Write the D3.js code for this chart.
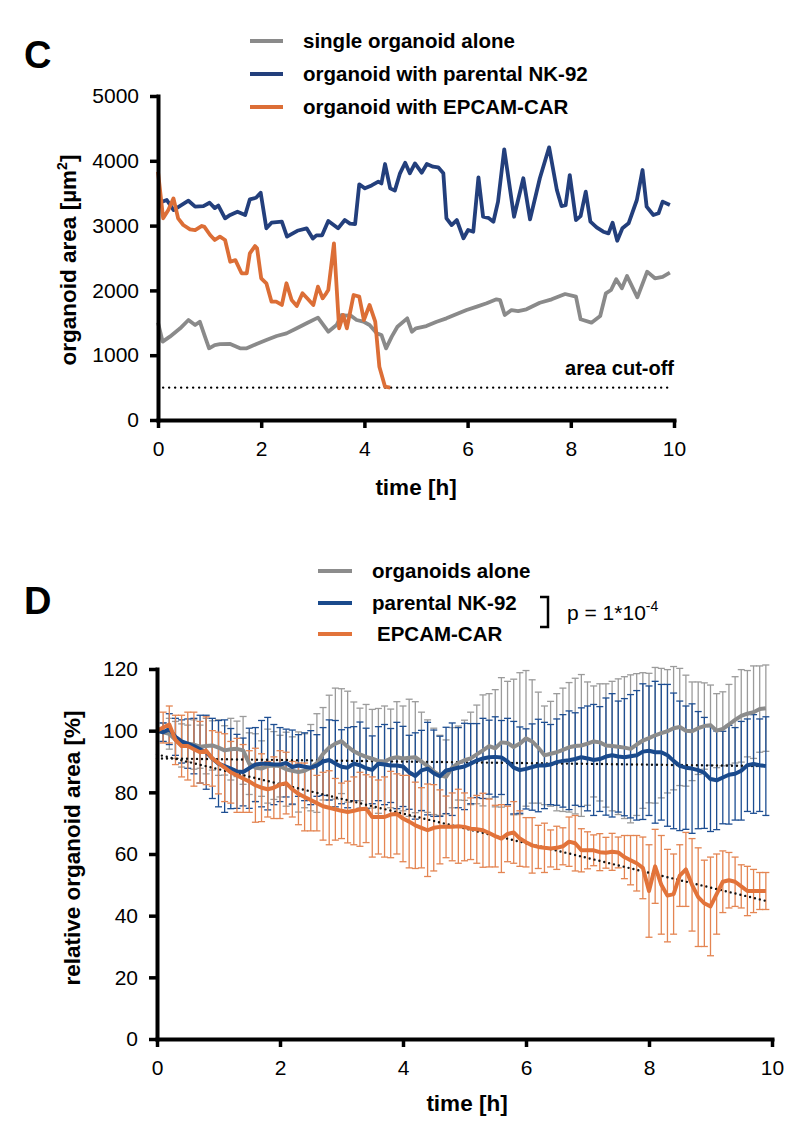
<!DOCTYPE html>
<html><head><meta charset="utf-8">
<script src="https://cdn.jsdelivr.net/npm/d3@7"></script>
<style>
body{margin:0;background:#fff}
svg text{font-family:"Liberation Sans",Arial,Helvetica,sans-serif;fill:#000}
</style></head>
<body><svg id="chart" width="786" height="1124"></svg>
<script>
// ---------- Panel C data ----------
const cTicksY = [0, 1000, 2000, 3000, 4000, 5000];
const cTicksX = [0, 2, 4, 6, 8, 10];
const cutoff = 500;
const cLegend = ["single organoid alone", "organoid with parental NK-92", "organoid with EPCAM-CAR"];

const tGray = [0,0.09,0.23,0.43,0.59,0.72,0.81,0.91,0.99,1.1,1.2,1.4,1.59,1.72,1.91,2.1,2.3,2.49,2.69,2.88,3.1,3.3,3.46,3.56,3.66,3.72,3.85,3.98,4.1,4.24,4.33,4.42,4.53,4.64,4.83,4.92,5.0,5.2,5.4,5.59,5.79,5.98,6.18,6.37,6.56,6.63,6.72,6.85,6.98,7.14,7.4,7.63,7.89,8.1,8.19,8.4,8.57,8.68,8.78,8.88,8.99,9.09,9.29,9.48,9.63,9.78,9.92];
const vGray = [1502,1209,1286,1415,1543,1466,1517,1286,1106,1157,1170,1173,1106,1106,1173,1235,1296,1337,1415,1492,1580,1363,1466,1620,1610,1620,1543,1517,1466,1337,1312,1106,1286,1440,1569,1363,1415,1450,1517,1569,1636,1697,1749,1801,1862,1850,1620,1697,1680,1708,1810,1862,1944,1903,1554,1502,1605,1955,2006,2171,2032,2222,1893,2289,2187,2210,2273];

const tBlue = [0,0.17,0.3,0.46,0.59,0.72,0.88,1.0,1.1,1.17,1.3,1.4,1.54,1.69,1.78,1.9,1.99,2.1,2.2,2.4,2.5,2.7,2.88,3.0,3.07,3.18,3.3,3.49,3.62,3.72,3.82,3.9,4.01,4.14,4.27,4.33,4.4,4.5,4.59,4.69,4.79,4.88,4.98,5.11,5.21,5.33,5.43,5.53,5.59,5.69,5.79,5.92,6.01,6.11,6.21,6.3,6.4,6.5,6.59,6.71,6.9,7.08,7.21,7.4,7.58,7.73,7.82,7.9,7.98,8.1,8.19,8.29,8.38,8.5,8.63,8.73,8.81,8.9,9.0,9.12,9.28,9.39,9.47,9.6,9.7,9.78,9.92];
const vBlue = [3345,3395,3240,3318,3384,3292,3300,3353,3270,3310,3112,3165,3215,3163,3406,3430,3508,2958,3045,3060,2830,2920,2958,2800,2850,2850,3070,2958,3086,3030,3025,3637,3575,3620,3678,3650,3950,3575,3540,3807,3970,3807,3960,3816,3950,3910,3900,3807,3112,3009,3086,2804,2932,2906,3745,3137,3120,3060,3370,4177,3137,3730,3096,3730,4208,3549,3302,3315,3780,3086,3147,3523,3060,2973,2906,2880,3045,2767,2958,3035,3395,3858,3292,3163,3190,3370,3318];

const tCar = [0,0.1,0.2,0.3,0.39,0.49,0.62,0.72,0.85,0.9,1.01,1.1,1.2,1.3,1.4,1.5,1.62,1.72,1.78,1.88,1.92,2.0,2.1,2.2,2.29,2.4,2.49,2.59,2.69,2.8,2.9,3.01,3.1,3.19,3.26,3.3,3.41,3.51,3.59,3.66,3.79,3.9,3.99,4.1,4.21,4.29,4.4,4.5];
const vCar = [3830,3112,3240,3420,3112,3009,2942,2930,2994,2980,2855,2778,2829,2778,2443,2468,2264,2264,2572,2685,2650,2187,2110,1826,1826,1775,2110,1852,1760,1955,1870,1775,2058,1878,1955,2006,2727,1415,1620,1415,1929,1904,1543,1775,1517,822,514,500];

// ---------- Panel D data ----------
const dTicksY = [0, 20, 40, 60, 80, 100, 120];
const dTicksX = [0, 2, 4, 6, 8, 10];
const dLegend = ["organoids alone", "parental NK-92", "EPCAM-CAR"];
const pText = "p = 1*10";
const pExp = "-4";
const tD = d3.range(100).map(i => i / 10);

const mGray = [100,99.5,99,97,95.2,95.8,95.5,94.8,95,95.2, 94.5,93.6,94,94.1,93.6,89.3,88,87.7,88.5,88.7, 88.5,87.5,87,86.6,87,88,89.5,92.5,94.5,95.8, 96.6,94.8,93.3,92.3,91.5,90.9,90.2,90,91,91.4, 91,91.2,91.4,90,88.5,86.8,85.5,85,88,89.5, 90.4,91,92.3,93.6,95,94.3,96.2,96,94.7,95.8, 97.5,96.5,94.5,92,92.5,93,93.8,94.6,95,95.2, 95.8,96.5,96.2,95.2,95,94.8,94.5,94.1,95.5,96.8, 97.6,98.5,99.2,99.8,100.8,101.2,100,99.8,100.8,101.5, 101.8,100,100.6,102,103.5,104.8,105.5,106,107,107.3];
const sGray = [0,3,5,6,7,6,8,7,9,8, 9,8,10,9,11,10,11,9,12,11, 10,12,11,13,12,14,16,15,17,18, 17,18,16,15,17,16,17,18,16,18, 17,19,18,16,15,14,13,12,13,12, 13,15,16,18,17,19,21,20,22,23, 22,20,18,16,17,19,20,21,22,23, 20,18,19,20,21,22,23,24,23,22, 21,22,21,20,20,19,18,16,15,14, 13,12,12,13,14,15,14,15,14,14];

const mBlue = [100,99.5,100.5,98,96.5,95.8,95,94,93,91, 89.3,88.5,87.7,86.8,86.6,87.8,89,89.3,89.3,89, 89,89.5,88.2,88.7,88.3,88,88.7,90,90.5,89.3, 88.3,88,89.3,88.8,87.8,87.3,89.3,89,88.7,88.7, 88.4,86.5,85.3,87.1,87.7,86.2,85.2,87.1,87.5,88, 88.4,89.3,90.3,91,91.4,91.5,91.3,90,88,87.2, 87.6,88.2,88.7,88.7,89,89.8,90.2,90.4,90.8,91.4, 91,90.5,90.8,91.6,92,91.6,91.4,91.7,92,93.2, 93.5,93,93,92,90.2,88.6,88,87.7,87.2,86.3, 84.3,83.9,84.8,85.7,86,87,88.8,89.2,88.8,88.5];
const sBlue = [0,3,5,6,7,8,9,11,12,13, 14,15,13,12,11,13,12,14,15,13, 12,11,12,10,11,12,10,11,13,14, 12,13,12,14,13,11,12,13,12,14, 13,12,14,13,15,14,13,14,15,13, 14,13,12,13,12,13,12,14,15,14, 13,14,15,14,13,14,15,16,15,16, 17,18,17,19,20,18,19,20,21,22, 21,23,22,23,22,21,20,21,19,18, 17,16,15,16,15,16,15,16,15,16];

const mCar = [100,101,102,97,95,95,94,93,93.5,91, 89.5,88,86.5,85.5,84.5,83.5,82.3,81.5,81,81.5, 82.5,83,81,79.5,78.5,77.5,76.5,75.5,75,74.5, 74,73.6,74,74.5,74.7,72,72,72,72.8,73, 71.5,70.5,69.3,68.5,67.7,68.5,68.8,68.8,68.8,69, 68.8,68.2,68,67.7,66.8,65.8,65,66.5,67,65, 63.8,62.8,62.3,62,61.8,62,62.5,64,63.5,61.2, 61.2,61.2,60.6,60.4,60.7,60.5,59,58,57,55.5, 48,56,50,46.5,47,53,55,50,46,44, 43,47,51,51.5,51,49.5,48,48,48,48];
const sCar = [0,5,6,8,10,11,12,10,11,9, 10,11,10,12,11,10,12,11,9,10, 11,10,9,10,11,10,9,11,12,10, 9,10,11,12,11,13,12,13,14,13, 14,15,14,13,15,14,12,10,11,12, 11,10,11,12,11,10,11,9,10,9, 8,9,7,8,6,7,6,8,9,7, 6,5,6,5,6,5,7,8,9,10, 15,12,16,15,13,10,12,15,16,14, 16,13,10,9,8,7,8,7,6,6];

// linear trend lines (dotted)
const fitT = [0, 9.9];
const fitCar = [92.3, 44.8];
const fitNK = [91, 88.5];

// ---------- drawing ----------
const svg = d3.select("#chart");
const FONT = '"Liberation Sans",Arial,Helvetica,sans-serif';
const colC = {gray: "#8a8a8a", blue: "#233f7c", orange: "#dc6e36"};
const colD = {gray: "#8c8c8c", grayBar: "#9b9b9b", blue: "#1a4a8c", blueBar: "#1d4e92", orange: "#e2733a", orangeBar: "#e48552"};
const LEG = 20.5, TITLE = 22.5, TICK = 21;

function styleAxis(g) {
  g.select(".domain").attr("stroke", "#000").attr("stroke-width", 4).attr("stroke-linecap", "square");
  g.selectAll(".tick line").attr("stroke", "#000").attr("stroke-width", 3.5);
  g.selectAll(".tick text").attr("font-family", FONT).attr("font-size", TICK).attr("fill", "#000");
}

// ======== Panel C ========
const xC = d3.scaleLinear().domain([0, 10]).range([158, 674]);
const yC = d3.scaleLinear().domain([0, 5000]).range([420, 96]);

svg.append("text").attr("x", 24).attr("y", 68).attr("font-size", 38).attr("font-weight", "bold").text("C");

const legColorsC = [colC.gray, colC.blue, colC.orange];
cLegend.forEach((lab, i) => {
  const yy = 41 + i * 33;
  svg.append("line").attr("x1", 250).attr("x2", 283).attr("y1", yy).attr("y2", yy)
    .attr("stroke", legColorsC[i]).attr("stroke-width", 4);
  svg.append("text").attr("x", 303).attr("y", yy + 7).attr("font-size", LEG).attr("font-weight", "bold").text(lab);
});

svg.append("line").attr("x1", xC(0.1)).attr("x2", xC(9.9)).attr("y1", yC(cutoff)).attr("y2", yC(cutoff))
  .attr("stroke", "#000").attr("stroke-width", 2.4).attr("stroke-linecap", "round").attr("stroke-dasharray", "0,6");
svg.append("text").attr("x", 674).attr("y", yC(cutoff) - 13).attr("text-anchor", "end")
  .attr("font-size", 20).attr("font-weight", "bold").text("area cut-off");

const lineC = d3.line().x(d => xC(d[0])).y(d => yC(d[1])).curve(d3.curveLinear);
[[tGray, vGray, colC.gray], [tBlue, vBlue, colC.blue], [tCar, vCar, colC.orange]].forEach(([tt, vv, c]) => {
  svg.append("path").datum(tt.map((t, i) => [t, vv[i]])).attr("d", lineC)
    .attr("fill", "none").attr("stroke", c).attr("stroke-width", 3.8).attr("stroke-linejoin", "round");
});

const gxC = svg.append("g").attr("transform", `translate(0,${yC(0)})`)
  .call(d3.axisBottom(xC).tickValues(cTicksX).tickSize(8).tickSizeOuter(0).tickPadding(13).tickFormat(d3.format("d")));
styleAxis(gxC);
const gyC = svg.append("g").attr("transform", `translate(${xC(0)},0)`)
  .call(d3.axisLeft(yC).tickValues(cTicksY).tickSize(8).tickSizeOuter(0).tickPadding(11).tickFormat(d3.format("d")));
styleAxis(gyC);

svg.append("text").attr("x", 416).attr("y", 495).attr("text-anchor", "middle")
  .attr("font-size", TITLE).attr("font-weight", "bold").text("time [h]");
const ytC = svg.append("text").attr("transform", "translate(76,260) rotate(-90)").attr("text-anchor", "middle")
  .attr("font-size", TITLE).attr("font-weight", "bold");
ytC.append("tspan").text("organoid area [µm");
ytC.append("tspan").attr("font-size", 14).attr("dy", -9).text("2");
ytC.append("tspan").attr("dy", 9).text("]");

// ======== Panel D ========
const xD = d3.scaleLinear().domain([0, 10]).range([157, 772]);
const yD = d3.scaleLinear().domain([0, 120]).range([1039, 669]);

svg.append("text").attr("x", 24).attr("y", 614).attr("font-size", 38).attr("font-weight", "bold").text("D");

const legColorsD = [colD.gray, colD.blue, colD.orange];
const legY = [571, 603, 634];
const legX = [372, 372, 377];
dLegend.forEach((lab, i) => {
  svg.append("line").attr("x1", 318).attr("x2", 352).attr("y1", legY[i]).attr("y2", legY[i])
    .attr("stroke", legColorsD[i]).attr("stroke-width", 4);
  svg.append("text").attr("x", legX[i]).attr("y", legY[i] + 7).attr("font-size", LEG).attr("font-weight", "bold").text(lab);
});
svg.append("path").attr("d", "M540,597 H548 V627 H540").attr("fill", "none").attr("stroke", "#000").attr("stroke-width", 2.5);
const pt = svg.append("text").attr("x", 567).attr("y", 620).attr("font-size", 21);
pt.append("tspan").text(pText);
pt.append("tspan").attr("font-size", 14).attr("dy", -9).text(pExp);

const capW = 3.5;
function drawBars(mean, sd, col) {
  const g = svg.append("g").attr("stroke", col).attr("stroke-width", 1.3).attr("fill", "none");
  tD.forEach((t, i) => {
    if (!sd[i]) return;
    const x = xD(t), y1 = yD(mean[i] - sd[i]), y2 = yD(mean[i] + sd[i]);
    g.append("line").attr("x1", x).attr("x2", x).attr("y1", y1).attr("y2", y2);
    g.append("line").attr("x1", x - capW).attr("x2", x + capW).attr("y1", y1).attr("y2", y1);
    g.append("line").attr("x1", x - capW).attr("x2", x + capW).attr("y1", y2).attr("y2", y2);
  });
}
drawBars(mGray, sGray, colD.grayBar);
drawBars(mBlue, sBlue, colD.blueBar);
drawBars(mCar, sCar, colD.orangeBar);

const lineFit = d3.line().x(d => xD(d[0])).y(d => yD(d[1]));
[fitNK, fitCar].forEach(f => {
  svg.append("path").datum(fitT.map((t, i) => [t, f[i]])).attr("d", lineFit)
    .attr("fill", "none").attr("stroke", "#111").attr("stroke-width", 2.4)
    .attr("stroke-linecap", "round").attr("stroke-dasharray", "0,5");
});

const lineD = d3.line().x((d, i) => xD(tD[i])).y(d => yD(d));
[[mGray, colD.gray], [mBlue, colD.blue], [mCar, colD.orange]].forEach(([m, c]) => {
  svg.append("path").datum(m).attr("d", lineD).attr("fill", "none").attr("stroke", c)
    .attr("stroke-width", 4).attr("stroke-linejoin", "round");
});

const gxD = svg.append("g").attr("transform", `translate(0,${yD(0)})`)
  .call(d3.axisBottom(xD).tickValues(dTicksX).tickSize(8).tickSizeOuter(0).tickPadding(13).tickFormat(d3.format("d")));
styleAxis(gxD);
const gyD = svg.append("g").attr("transform", `translate(${xD(0)},0)`)
  .call(d3.axisLeft(yD).tickValues(dTicksY).tickSize(8).tickSizeOuter(0).tickPadding(11).tickFormat(d3.format("d")));
styleAxis(gyD);

svg.append("text").attr("x", 467).attr("y", 1111).attr("text-anchor", "middle")
  .attr("font-size", TITLE).attr("font-weight", "bold").text("time [h]");
svg.append("text").attr("transform", "translate(80,848) rotate(-90)").attr("text-anchor", "middle")
  .attr("font-size", TITLE).attr("font-weight", "bold").text("relative organoid area [%]");
</script></body></html>
